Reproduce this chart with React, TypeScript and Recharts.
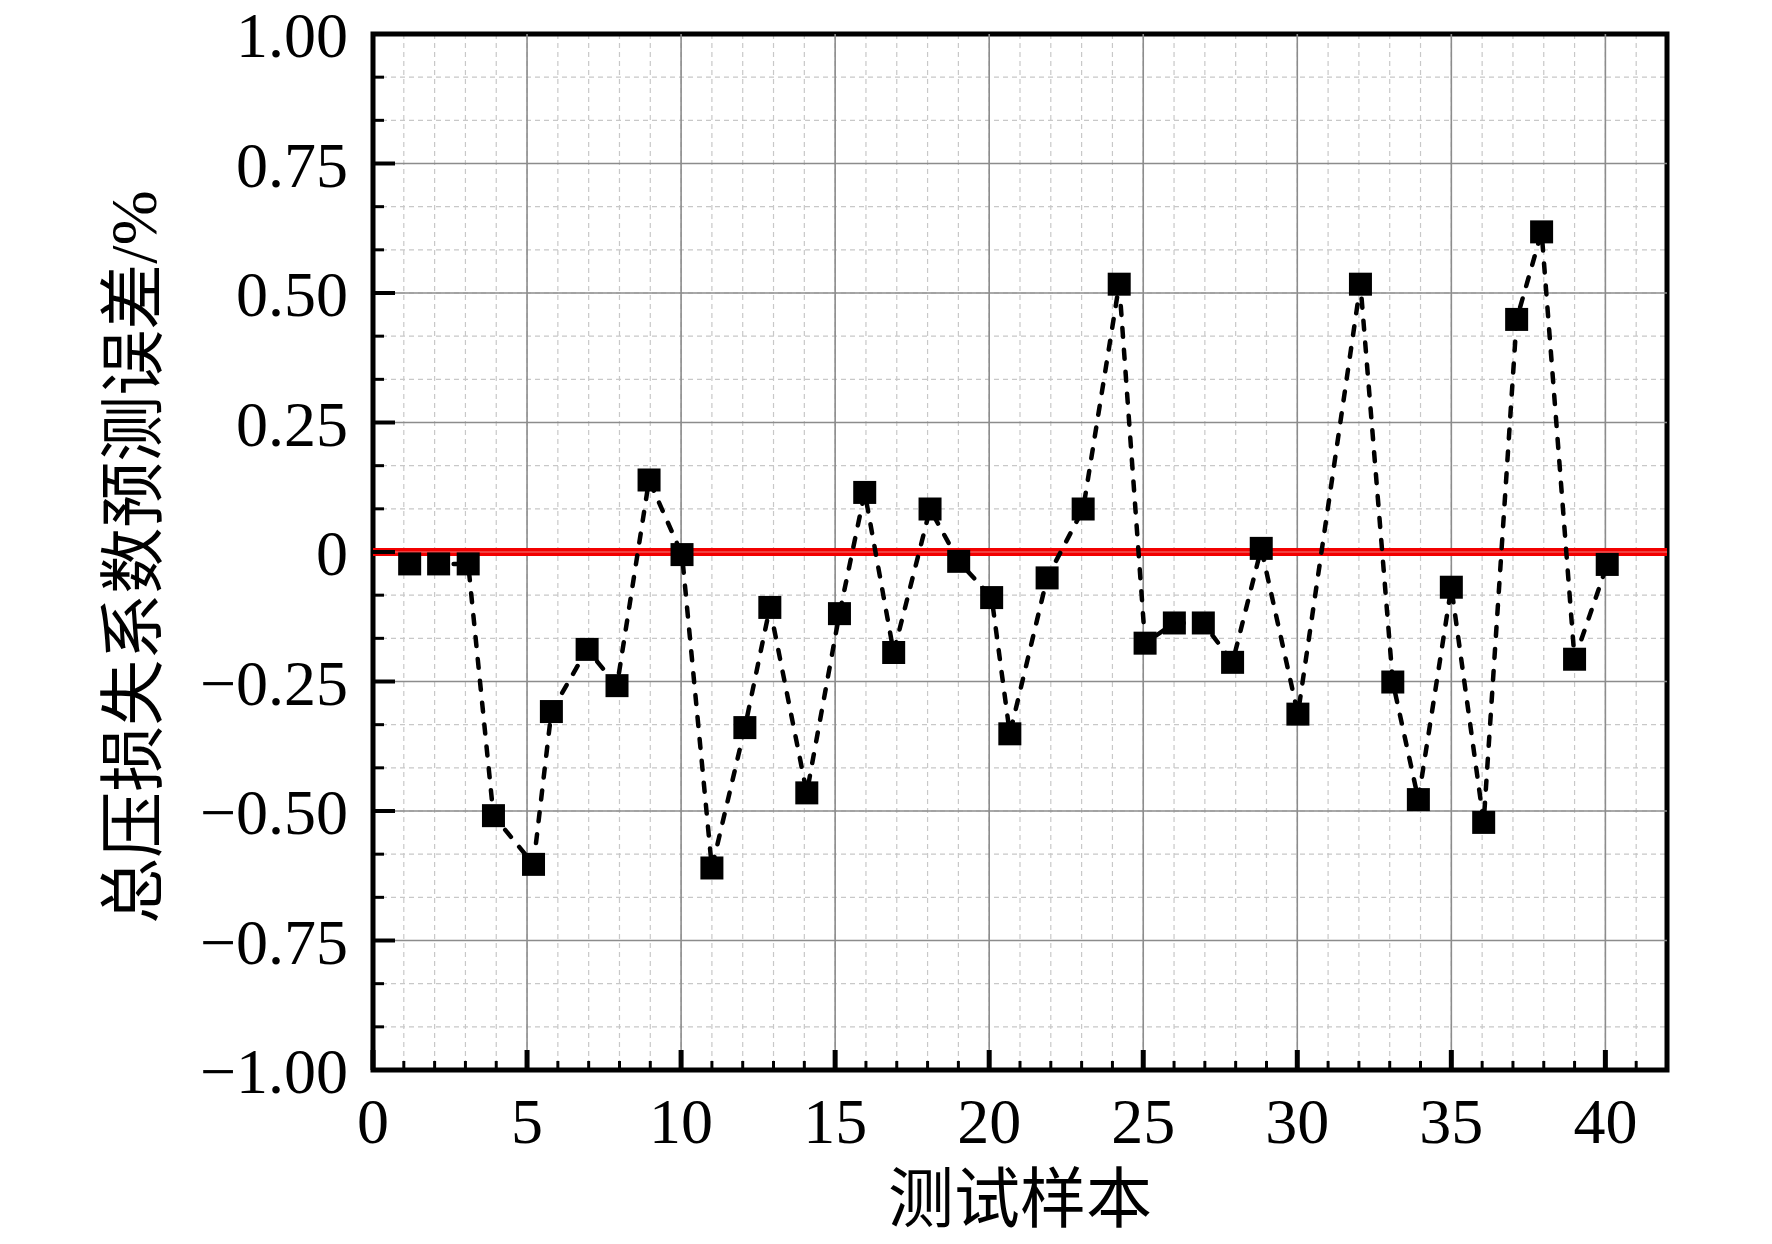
import React from 'react';
import { LineChart, Line, XAxis, YAxis, CartesianGrid, ReferenceLine, ReferenceArea } from 'recharts';

// 测试样本编号（读图得到的横坐标）
const SAMPLE_X = [
  1.19, 2.13, 3.09, 3.91, 5.21, 5.79, 6.95, 7.92, 8.96, 10.03,
  11.0, 12.07, 12.88, 14.08, 15.14, 15.96, 16.9, 18.08, 19.01, 20.08,
  20.67, 21.88, 23.05, 24.22, 25.06, 26.01, 26.95, 27.9, 28.83, 30.02,
  32.05, 33.1, 33.93, 35.0, 36.05, 37.12, 37.93, 39.0, 40.06,
];

// 总压损失系数预测误差 /%
const PRED_ERROR = [
  -0.023, -0.023, -0.023, -0.509, -0.603, -0.308, -0.188, -0.258, 0.139, -0.005,
  -0.61, -0.339, -0.107, -0.465, -0.119, 0.115, -0.194, 0.083, -0.018, -0.088,
  -0.351, -0.05, 0.083, 0.517, -0.176, -0.137, -0.137, -0.213, 0.007, -0.313,
  0.517, -0.251, -0.478, -0.068, -0.522, 0.449, 0.618, -0.207, -0.024,
];

const X_MAJOR = [0, 5, 10, 15, 20, 25, 30, 35, 40];
const X_MINOR = Array.from({ length: 43 }, (_, i) => i); // 0..42
const Y_MAJOR = [-1, -0.75, -0.5, -0.25, 0, 0.25, 0.5, 0.75, 1];
const Y_ALL = Y_MAJOR.flatMap((v, i) =>
  i < Y_MAJOR.length - 1 ? [v, v + 0.25 / 3, v + 0.5 / 3] : [v]
);

const X_DOMAIN = [0, 42];
const Y_DOMAIN = [-1, 1];

const data = SAMPLE_X.map((x, i) => ({ x, err: PRED_ERROR[i] }));

const SERIF = "'Liberation Serif', 'Times New Roman', serif";
const TITLE_FONT = "'Liberation Serif', 'Noto Sans CJK SC', serif";

const fmtY = (v: number) => {
  if (Math.abs(v) < 1e-9) return '0';
  const s = Math.abs(v).toFixed(2);
  return v < 0 ? '\u2212' + s : s;
};

const isMajor = (list: number[], v: number) => list.some((m) => Math.abs(m - v) < 1e-6);

const YTick = (props: any) => {
  const { x, y, payload } = props;
  const major = isMajor(Y_MAJOR, payload.value);
  return (
    <g>
      <line x1={x} x2={x + (major ? 22 : 11)} y1={y} y2={y} stroke="#000" strokeWidth={major ? 4 : 3} />
      {major && (
        <text x={x - 25} y={y} dy={23} textAnchor="end" fontSize={64} fontFamily={SERIF} fill="#000">
          {fmtY(payload.value)}
        </text>
      )}
    </g>
  );
};

const XTick = (props: any) => {
  const { x, y, payload } = props;
  const major = isMajor(X_MAJOR, payload.value);
  return (
    <g>
      <line x1={x} x2={x} y1={y} y2={y - (major ? 20 : 9)} stroke="#000" strokeWidth={major ? 5 : 3} />
      {major && (
        <text x={x} y={y} dy={73} textAnchor="middle" fontSize={64} fontFamily={SERIF} fill="#000">
          {payload.value}
        </text>
      )}
    </g>
  );
};

const SquareDot = (props: any) => {
  const { cx, cy, index } = props;
  if (cx == null || cy == null) return <g key={`d-${index}`} />;
  return <rect key={`d-${index}`} x={cx - 11.5} y={cy - 11.5} width={23} height={23} fill="#000" />;
};

export default function App() {
  return (
    <div style={{ position: 'absolute', left: 0, top: 0, width: 1772, height: 1244, background: '#fff' }}>
      <LineChart
        width={1772}
        height={1244}
        data={data}
        margin={{ top: 34, right: 105, bottom: 0, left: 0 }}
      >
        <CartesianGrid stroke="#c8c8c8" strokeWidth={1.2} strokeDasharray="5 4" />
        <XAxis
          type="number"
          dataKey="x"
          domain={X_DOMAIN}
          ticks={X_MINOR}
          interval={0}
          allowDataOverflow
          height={174}
          axisLine={false}
          tickLine={false}
          tickSize={0}
          tickMargin={0}
          tick={<XTick />}
          label={{
            content: (p: any) => {
              const vb = p.viewBox;
              return (
                <text
                  x={vb.x + vb.width / 2}
                  y={1199}
                  textAnchor="middle"
                  dominantBaseline="central"
                  fontSize={66}
                  fontFamily={TITLE_FONT}
                  fill="#000"
                >
                  测试样本
                </text>
              );
            },
          }}
        />
        <YAxis
          type="number"
          domain={Y_DOMAIN}
          ticks={Y_ALL}
          interval={0}
          allowDataOverflow
          width={373}
          axisLine={false}
          tickLine={false}
          tickSize={0}
          tickMargin={0}
          tick={<YTick />}
          label={{
            content: (p: any) => {
              const vb = p.viewBox;
              const cx = 133;
              const cy = vb.y + vb.height / 2 + 5;
              return (
                <text
                  x={cx}
                  y={cy}
                  transform={`rotate(-90, ${cx}, ${cy})`}
                  textAnchor="middle"
                  dominantBaseline="central"
                  fontSize={66}
                  fontFamily={TITLE_FONT}
                  fill="#000"
                >
                  总压损失系数预测误差/%
                </text>
              );
            },
          }}
        />
        {X_MAJOR.filter((v) => v > 0).map((v) => (
          <ReferenceLine key={`vx-${v}`} x={v} stroke="#8c8c8c" strokeWidth={1.6} />
        ))}
        {Y_MAJOR.filter((v) => Math.abs(v) < 1 && v !== 0).map((v) => (
          <ReferenceLine key={`hy-${v}`} y={v} stroke="#8c8c8c" strokeWidth={1.6} />
        ))}
        <ReferenceLine y={0} stroke="#f20000" strokeWidth={8} />
        <ReferenceLine y={0} stroke="#f08080" strokeWidth={1} />
        <Line
          type="linear"
          dataKey="err"
          stroke="#000"
          strokeWidth={4.5}
          strokeDasharray="9 13"
          strokeLinecap="round"
          dot={SquareDot}
          activeDot={false}
          isAnimationActive={false}
        />
        <ReferenceArea
          x1={X_DOMAIN[0]}
          x2={X_DOMAIN[1]}
          y1={Y_DOMAIN[0]}
          y2={Y_DOMAIN[1]}
          fill="none"
          fillOpacity={0}
          stroke="#000"
          strokeWidth={5}
        />
      </LineChart>
    </div>
  );
}
